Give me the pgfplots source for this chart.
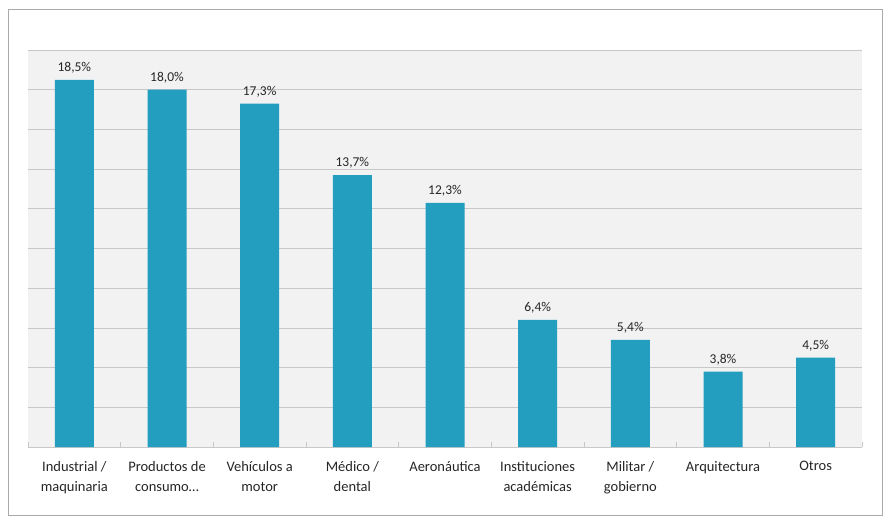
\documentclass[border=0pt]{standalone}
\usepackage{pgfplots}
\pgfplotsset{compat=1.18}
\usepackage{fontspec}
\setmainfont{Carlito}
\definecolor{barc}{RGB}{35,158,190}
\definecolor{gridc}{RGB}{200,200,200}
\definecolor{bgc}{RGB}{242,242,242}
\definecolor{framec}{RGB}{170,170,170}
\begin{document}
\begin{tikzpicture}
\useasboundingbox (-28pt,-76pt) rectangle (858pt,447pt);
\draw[framec, line width=0.8pt] (-20pt,-68pt) rectangle (854pt,438pt);
\begin{axis}[
  at={(0,0)}, anchor=south west,
  scale only axis, width=834pt, height=397pt,
  xmin=-0.5, xmax=8.5, ymin=0, ymax=20,
  axis background/.style={fill=bgc},
  axis x line*=bottom, axis y line*=left,
  x axis line style={gridc, line width=0.8pt, -},
  y axis line style={draw=none},
  ytick={0,2,...,20}, yticklabels={}, major y tick style={draw=none},
  ymajorgrids, grid style={gridc, line width=0.8pt},
  xtick={0,...,8}, major x tick style={draw=none},
  minor xtick={-0.5,0.5,...,8.5},
  minor x tick style={gridc, line width=0.8pt},
  minor tick length=5pt,
  xticklabels={{Industrial /\\maquinaria}, {Productos de\\consumo\ldots}, {Vehículos a\\motor}, {Médico /\\dental}, {Aeronáutica}, {Instituciones\\académicas}, {Militar /\\gobierno}, {Arquitectura}, {Otros}},
  x tick label style={align=center, font=\fontsize{14.5}{19.5}\selectfont, text=black!85, anchor=north, yshift=-11pt},
  /pgf/number format/assume math mode=true,
  nodes near coords={\pgfmathprintnumber[fixed,fixed zerofill,precision=1,use comma]{\pgfplotspointmeta}\%},
  every node near coord/.append style={font=\fontsize{13.5}{15}\selectfont, text=black!85, yshift=3pt},
]
\addplot[ybar, bar width=39pt, fill=barc, draw=none] coordinates {
  (0,18.5) (1,18.0) (2,17.3) (3,13.7) (4,12.3) (5,6.4) (6,5.4) (7,3.8) (8,4.5)
};
\end{axis}
\end{tikzpicture}
\end{document}
